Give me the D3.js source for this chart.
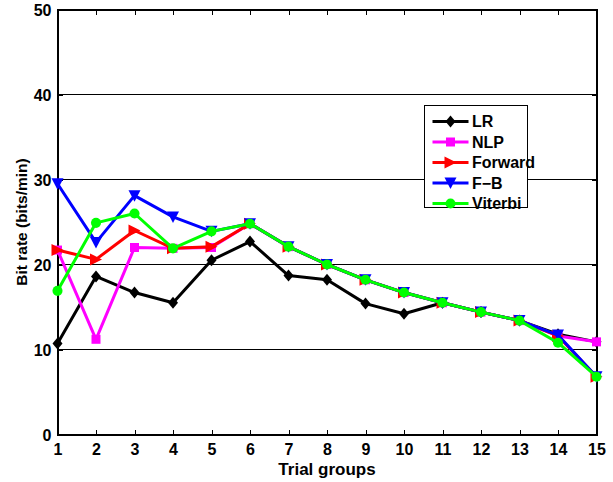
<!DOCTYPE html>
<html><head><meta charset="utf-8">
<script src="https://cdn.jsdelivr.net/npm/d3@7"></script>
<style>body{margin:0;background:#fff}svg text{font-family:"Liberation Sans",Arial,sans-serif;font-weight:bold}</style>
</head><body><svg id="c" width="613" height="482"></svg>
<script>
const groups = [1,2,3,4,5,6,7,8,9,10,11,12,13,14,15];
const LR      = [10.7,18.6,16.7,15.5,20.5,22.7,18.7,18.2,15.4,14.2,15.5,14.4,13.4,11.8,10.9];
const NLP     = [21.7,11.2,22.0,21.9,22.0,24.8,22.1,20.0,18.2,16.7,15.5,14.4,13.4,11.6,10.9];
const Forward = [21.7,20.6,24.0,21.9,22.1,24.8,22.1,20.0,18.2,16.7,15.5,14.4,13.4,11.6,6.8];
const FB      = [29.5,22.6,28.1,25.6,23.9,24.8,22.1,20.0,18.2,16.7,15.5,14.4,13.4,11.7,6.8];
const Viterbi = [16.9,24.9,26.0,21.9,23.9,24.8,22.1,20.0,18.2,16.7,15.5,14.4,13.4,10.8,6.8];
const yTicks = [0,10,20,30,40,50];
const seriesNames = ["LR","NLP","Forward","F\u2212B","Viterbi"];
const seriesData = [LR,NLP,Forward,FB,Viterbi];
const colors = ["#000000","#ff00ff","#ff0000","#0000ff","#00ff00"];
const markers = ["diamond","square","right","down","circle"];

const svg = d3.select("#c");
const L=57.5,R=596.5,T=9.5,B=434.5;
const x = d3.scaleLinear().domain([1,15]).range([L,R]);
const y = d3.scaleLinear().domain([0,50]).range([B,T]);

// gridlines
svg.append("g").selectAll("line").data(yTicks.filter(v=>v>0&&v<50)).join("line")
  .attr("x1",L).attr("x2",R).attr("y1",d=>y(d)).attr("y2",d=>y(d))
  .attr("stroke","#000").attr("stroke-width",1).attr("shape-rendering","crispEdges");

// frame
svg.append("rect").attr("x",L).attr("y",T).attr("width",R-L).attr("height",B-T)
  .attr("fill","none").attr("stroke","#000").attr("stroke-width",2).attr("shape-rendering","crispEdges");

// axes
const fontFam = "'Liberation Sans',Arial,sans-serif";
const xAxis = svg.append("g").attr("transform",`translate(0,${B})`)
  .call(d3.axisBottom(x).tickValues(groups).tickFormat(d3.format("d")).tickSizeInner(-5).tickSizeOuter(0).tickPadding(9));
const xTop = svg.append("g").attr("transform",`translate(0,${T})`)
  .call(d3.axisTop(x).tickValues(groups).tickFormat("").tickSizeInner(-5).tickSizeOuter(0));
const yAxis = svg.append("g").attr("transform",`translate(${L},0)`)
  .call(d3.axisLeft(y).tickValues(yTicks).tickFormat(d3.format("d")).tickSizeInner(-5).tickSizeOuter(0).tickPadding(6));
const yRight = svg.append("g").attr("transform",`translate(${R},0)`)
  .call(d3.axisRight(y).tickValues(yTicks).tickFormat("").tickSizeInner(-5).tickSizeOuter(0));
[xAxis,xTop,yAxis,yRight].forEach(g=>{g.select(".domain").remove();g.selectAll("line").attr("stroke","#000").attr("shape-rendering","crispEdges");
  g.selectAll("text").attr("fill","#000").style("font-size","16px").style("font-family",fontFam).style("font-weight","bold");});
xAxis.selectAll("text").attr("dy","0.71em");
yAxis.selectAll("text").attr("dy","0.35em");

// labels
svg.append("text").attr("x",(L+R)/2).attr("y",475).attr("text-anchor","middle").style("font-size","17px").text("Trial groups");
svg.append("text").attr("transform",`translate(27,${(T+B)/2}) rotate(-90)`).attr("text-anchor","middle").style("font-size","15.5px").text("Bit rate (bits/min)");

function markerPath(type){
  switch(type){
    case "diamond": return "M0,-6L5,0L0,6L-5,0Z";
    case "square": return "M-4.5,-4.5H4.5V4.5H-4.5Z";
    case "right": return "M-6,-6L6,0L-6,6Z";
    case "down": return "M-6,-5.5L6,-5.5L0,6Z";
    default: return d3.symbol().type(d3.symbolCircle).size(80)();
  }
}

const line = d3.line().x((d,i)=>x(groups[i])).y(d=>y(d));
seriesData.forEach((s,k)=>{
  svg.append("path").datum(s).attr("d",line).attr("fill","none").attr("stroke",colors[k]).attr("stroke-width",3).attr("stroke-linejoin","round");
  svg.append("g").selectAll("path").data(s).join("path")
    .attr("transform",(d,i)=>`translate(${x(groups[i])},${y(d)})`)
    .attr("d",markerPath(markers[k])).attr("fill",colors[k]);
});

// legend
const lg = svg.append("g").attr("transform","translate(424.5,105.5)");
lg.append("rect").attr("width",103).attr("height",102).attr("fill","#fff").attr("stroke","#000").attr("stroke-width",1.5).attr("shape-rendering","crispEdges");
seriesNames.forEach((n,k)=>{
  const yy = 16 + k*20.5;
  lg.append("line").attr("x1",8).attr("x2",44).attr("y1",yy).attr("y2",yy).attr("stroke",colors[k]).attr("stroke-width",3);
  lg.append("path").attr("transform",`translate(26,${yy})`).attr("d",markerPath(markers[k])).attr("fill",colors[k]);
  lg.append("text").attr("x",47.5).attr("y",yy).attr("dy","0.36em").style("font-size","16px").text(n);
});
</script></body></html>
